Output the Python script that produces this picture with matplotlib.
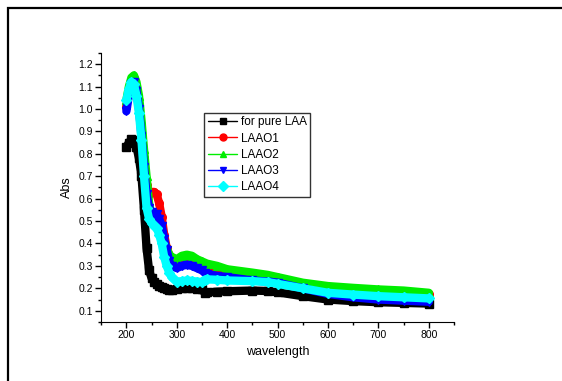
import matplotlib
matplotlib.use('Agg')
import matplotlib.pyplot as plt
from matplotlib.patches import Rectangle
from matplotlib.ticker import MultipleLocator

plt.rcParams['font.family'] = ['Liberation Sans', 'DejaVu Sans']

# wavelength (nm)
wl = [200, 205, 210, 215, 220, 225, 230, 235, 240, 245, 250, 255, 260, 265, 270,
      275, 280, 285, 290, 300, 310, 320, 330, 340, 350, 355, 360, 380, 400, 450,
      480, 500, 550, 600, 650, 700, 750, 800]

pure_laa = [0.83, 0.85, 0.865, 0.86, 0.83, 0.78, 0.70, 0.55, 0.38, 0.28, 0.245, 0.23,
            0.22, 0.212, 0.205, 0.20, 0.195, 0.193, 0.193, 0.197, 0.20, 0.203, 0.201,
            0.198, 0.195, 0.18, 0.182, 0.185, 0.187, 0.19, 0.188, 0.182, 0.165, 0.15,
            0.143, 0.138, 0.135, 0.132]
laao1 = [1.01, 1.08, 1.13, 1.14, 1.10, 1.02, 0.92, 0.78, 0.66, 0.62, 0.63, 0.63,
         0.62, 0.58, 0.52, 0.44, 0.38, 0.35, 0.33, 0.32, 0.33, 0.34, 0.335, 0.315,
         0.30, 0.29, 0.288, 0.275, 0.265, 0.25, 0.245, 0.235, 0.215, 0.20, 0.192,
         0.185, 0.18, 0.175]
laao2 = [1.04, 1.10, 1.14, 1.15, 1.12, 1.06, 0.95, 0.82, 0.70, 0.58, 0.52, 0.51,
         0.50, 0.48, 0.45, 0.41, 0.38, 0.35, 0.34, 0.33, 0.345, 0.35, 0.345, 0.33,
         0.32, 0.315, 0.31, 0.30, 0.285, 0.27, 0.26, 0.25, 0.225, 0.21, 0.202, 0.195,
         0.19, 0.18]
laao3 = [0.99, 1.06, 1.11, 1.12, 1.08, 1.00, 0.88, 0.74, 0.62, 0.56, 0.54, 0.53,
         0.53, 0.51, 0.48, 0.42, 0.37, 0.32, 0.30, 0.29, 0.30, 0.305, 0.30, 0.29,
         0.28, 0.27, 0.265, 0.255, 0.25, 0.235, 0.23, 0.225, 0.20, 0.175, 0.16,
         0.15, 0.145, 0.14]
laao4 = [1.04, 1.09, 1.12, 1.11, 1.06, 0.98, 0.86, 0.70, 0.56, 0.51, 0.49, 0.48,
         0.47, 0.44, 0.40, 0.34, 0.30, 0.27, 0.25, 0.23, 0.232, 0.235, 0.233, 0.23,
         0.228, 0.238, 0.24, 0.238, 0.235, 0.232, 0.228, 0.22, 0.20, 0.18, 0.172,
         0.165, 0.16, 0.155]

series = [
    ('for pure LAA', pure_laa, 'black', 's'),
    ('LAAO1', laao1, 'red', 'o'),
    ('LAAO2', laao2, '#00ee00', '^'),
    ('LAAO3', laao3, 'blue', 'v'),
    ('LAAO4', laao4, 'cyan', 'D'),
]

fig = plt.figure(figsize=(5.62, 3.81), dpi=100)
ax = fig.add_axes([0.18, 0.155, 0.628, 0.706])

for name, vals, col, mk in series:
    ax.plot(wl, vals, color=col, lw=6, marker=mk, markersize=5.5, label=name,
            solid_capstyle='round', solid_joinstyle='round')

ax.set_xlim(150, 850)
ax.set_ylim(0.05, 1.25)
ax.xaxis.set_minor_locator(MultipleLocator(50))
ax.yaxis.set_minor_locator(MultipleLocator(0.05))
ax.set_xticks([200, 300, 400, 500, 600, 700, 800])
ax.set_yticks([0.1, 0.2, 0.3, 0.4, 0.5, 0.6, 0.7, 0.8, 0.9, 1.0, 1.1, 1.2])

ax.spines['top'].set_visible(False)
ax.spines['right'].set_visible(False)
ax.tick_params(which='major', direction='out', length=4, width=1, labelsize=7.5, pad=2)
ax.tick_params(which='minor', direction='out', length=2.5, width=1)

ax.set_xlabel('wavelength', fontsize=9, labelpad=4)
ax.set_ylabel('Abs', fontsize=9, labelpad=4)

leg = ax.legend(loc='upper left', bbox_to_anchor=(0.292, 0.777), borderaxespad=0,
                fontsize=8.5, frameon=True, fancybox=False, shadow=False,
                handlelength=2.5, handletextpad=0.3, labelspacing=0.35,
                borderpad=0.3)
leg.get_frame().set_edgecolor('black')
leg.get_frame().set_linewidth(1)
for h in leg.get_lines():
    h.set_linewidth(1)
    h.set_markersize(5)

# outer frame of the page
fig.patches.append(Rectangle((7.5 / 562, -0.1), 1.2, 1.1 - 8.5 / 381 + 0.001,
                             transform=fig.transFigure, fill=False,
                             edgecolor='black', linewidth=1.6))

fig.savefig('out.png', dpi=100)
